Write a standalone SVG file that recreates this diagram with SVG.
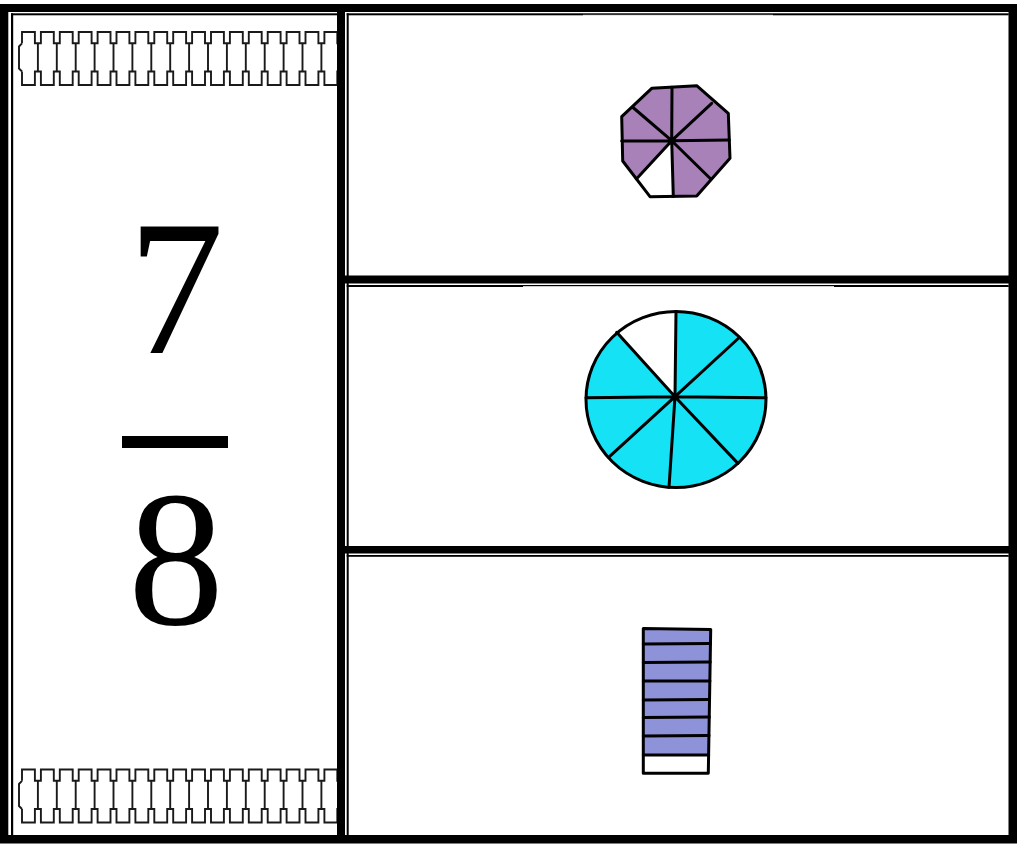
<svg xmlns="http://www.w3.org/2000/svg" width="1019" height="844" viewBox="0 0 1019 844">
<style>
.bg{fill:#ffffff}
.k{fill:#000000}
.w{fill:#ffffff}
.pat{fill:none;stroke:#1a1a1a;stroke-width:1.9;stroke-linejoin:miter}
.ink{stroke:#000000;stroke-width:3;stroke-linejoin:round;stroke-linecap:round}
.frac{font-family:"Liberation Serif","Times New Roman",serif;font-size:192px;fill:#000000}
</style>
<defs>
<g id="chain">
<path class="pat" d="M22,43.3 L19,46.5 V68.5 L22,71.5"/>
<path class="pat" d="M22,43.3 V32 h12.9 v11.3 h6 v-11.3 h12.9 v11.3 h6 v-11.3 h12.9 v11.3 h6 v-11.3 h12.9 v11.3 h6 v-11.3 h12.9 v11.3 h6 v-11.3 h12.9 v11.3 h6 v-11.3 h12.9 v11.3 h6 v-11.3 h12.9 v11.3 h6 v-11.3 h12.9 v11.3 h6 v-11.3 h12.9 v11.3 h6 v-11.3 h12.9 v11.3 h6 v-11.3 h12.9 v11.3 h6 v-11.3 h12.9 v11.3 h6 v-11.3 h12.9 v11.3 h6 v-11.3 h12.9 v11.3 h6 v-11.3 h12.9 v11.3 h6 v-11.3 h12.9 v11.3 h6 v-11.3"/>
<path class="pat" d="M22,71.5 V85 h12.9 v-13.5 h6 v13.5 h12.9 v-13.5 h6 v13.5 h12.9 v-13.5 h6 v13.5 h12.9 v-13.5 h6 v13.5 h12.9 v-13.5 h6 v13.5 h12.9 v-13.5 h6 v13.5 h12.9 v-13.5 h6 v13.5 h12.9 v-13.5 h6 v13.5 h12.9 v-13.5 h6 v13.5 h12.9 v-13.5 h6 v13.5 h12.9 v-13.5 h6 v13.5 h12.9 v-13.5 h6 v13.5 h12.9 v-13.5 h6 v13.5 h12.9 v-13.5 h6 v13.5 h12.9 v-13.5 h6 v13.5 h12.9 v-13.5 h6 v13.5 h12.9 v-13.5 h6 v13.5"/>
<path class="pat" d="M37.9,43.3 v28.2 m18.9,-28.2 v28.2 m18.9,-28.2 v28.2 m18.9,-28.2 v28.2 m18.9,-28.2 v28.2 m18.9,-28.2 v28.2 m18.9,-28.2 v28.2 m18.9,-28.2 v28.2 m18.9,-28.2 v28.2 m18.9,-28.2 v28.2 m18.9,-28.2 v28.2 m18.9,-28.2 v28.2 m18.9,-28.2 v28.2 m18.9,-28.2 v28.2 m18.9,-28.2 v28.2 m18.9,-28.2 v28.2"/>
</g>
</defs>
<rect class="bg" x="0" y="0" width="1019" height="844"/>

<g id="fraction-card">
<use href="#chain"/>
<use href="#chain" transform="translate(0,737.5)"/>
<text class="frac" x="176" y="353" text-anchor="middle">7</text>
<rect class="k" x="122" y="436" width="106" height="12"/>
<text class="frac" x="176" y="624" text-anchor="middle">8</text>
</g>

<g id="octagon-card">
<polygon points="651.7,88.3 696.7,85.7 728.3,113.3 730,158.3 696.7,196 650,196.7 622.7,161 621.7,116.7" fill="#a881b9"/>
<polygon points="671.7,140.7 636.4,178.9 650,196.7 673.3,196.4" fill="#ffffff"/>
<polygon class="ink" fill="none" points="651.7,88.3 696.7,85.7 728.3,113.3 730,158.3 696.7,196 650,196.7 622.7,161 621.7,116.7"/>
<path class="ink" fill="none" d="M671.7,140.7 L672,87.3 M671.7,140.7 L711.7,103.3 M671.7,140.7 L729.3,140 M671.7,140.7 L710,178.3 M671.7,140.7 L673.3,196.4 M671.7,140.7 L636.4,178.9 M671.7,140.7 L621.7,141 M671.7,140.7 L633,107.5"/>
</g>

<g id="circle-card">
<ellipse cx="676" cy="399.5" rx="90" ry="88" fill="#16e2f6"/>
<path d="M675,396.7 L616.7,332.3 A90,88 0 0,1 676,311.5 Z" fill="#ffffff"/>
<ellipse class="ink" fill="none" cx="676" cy="399.5" rx="90" ry="88"/>
<path class="ink" fill="none" d="M675,396.7 L676,311.5 M675,396.7 L739.3,337.5 M675,396.7 L766,397.7 M675,396.7 L737.9,463.4 M675,396.7 L669,487.3 M675,396.7 L608.6,457.3 M675,396.7 L586,397.7 M675,396.7 L616.7,332.3"/>
</g>

<g id="bar-card">
<polygon points="643.3,628.5 710.7,629.5 708.3,773.3 643.3,773.3" fill="#8e92d8"/>
<rect x="643.3" y="755" width="65.5" height="18.3" fill="#ffffff"/>
<polygon class="ink" fill="none" points="643.3,628.5 710.7,629.5 708.3,773.3 643.3,773.3"/>
<path class="ink" fill="none" d="M643.3,644 L710.4,643.5 M643.3,662.5 L710.2,662 M643.3,681 L709.9,681 M643.3,700 L709.6,699.5 M643.3,717.5 L709.3,717 M643.3,736 L709,735.5 M643.3,755 L708.7,755"/>
</g>

<g id="frame">
<rect class="k" x="0" y="4" width="1017" height="8"/>
<rect class="k" x="0" y="4" width="8.3" height="839"/>
<rect class="k" x="1008.5" y="4" width="8.5" height="839"/>
<rect class="k" x="0" y="835" width="1017" height="8.5"/>
<rect class="k" x="337" y="4" width="8" height="839"/>
<rect class="k" x="345" y="275.5" width="672" height="8"/>
<rect class="k" x="345" y="546" width="672" height="7.5"/>
<rect class="k" x="11" y="13.3" width="2.2" height="822"/>
<rect class="k" x="11" y="13.3" width="326" height="2"/>
<rect class="k" x="346.7" y="13.3" width="2" height="822"/>
<rect class="k" x="346.7" y="13.3" width="662" height="2"/>
<rect class="k" x="346.7" y="285" width="662" height="2"/>
<rect class="k" x="346.7" y="555" width="662" height="1.8"/>
<rect class="w" x="583" y="14.8" width="190" height="0.9"/>
<rect class="w" x="523" y="286.2" width="311" height="0.9"/>
</g>
</svg>
